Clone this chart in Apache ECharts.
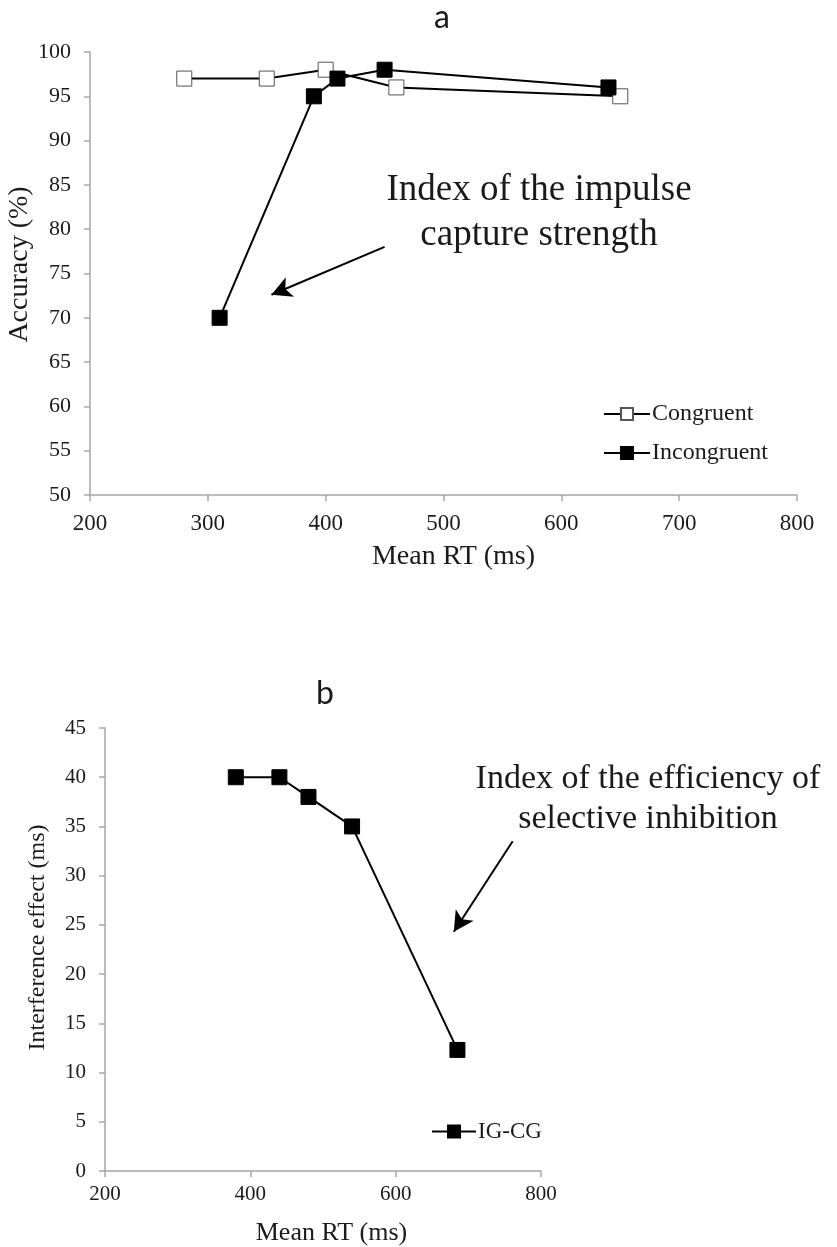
<!DOCTYPE html>
<html>
<head>
<meta charset="utf-8">
<script src="https://cdn.jsdelivr.net/npm/echarts@6/dist/echarts.min.js"></script>
<style>
  html, body { margin: 0; padding: 0; background: #fff; }
  #chart { width: 837px; height: 1247px; }
</style>
</head>
<body>
<div id="chart"></div>
<script>
// panel a: accuracy vs mean RT
const congruentRT = [280, 350, 400, 460, 650];
const congruentAcc = [97, 97, 98, 96, 95];
const incongruentRT = [310, 390, 410, 450, 640];
const incongruentAcc = [70, 95, 97, 98, 96];

// panel b: interference effect vs mean RT
const igcgRT = [380, 440, 480, 540, 685];
const igcgEffect = [40, 40, 38, 35, 12.3];

// arrows (data coords)
const arrowA = [[450, 78], [354, 72.6]];
const arrowB = [[761, 33.5], [680, 24.3]];

const serif = 'Liberation Serif';
const axisGray = '#a6a6a6';
const ink = '#1a1a1a';

const pair = (xs, ys) => xs.map((x, i) => [x, ys[i]]);

const myChart = echarts.init(document.getElementById('chart'));

const valueAxis = (extra) => Object.assign({
  type: 'value',
  splitLine: { show: false },
  axisLine: { show: true, lineStyle: { color: axisGray, width: 1.5 } },
  axisTick: { show: true, length: 6, lineStyle: { color: axisGray, width: 1.5 } },
  nameLocation: 'middle',
  nameMoveOverlap: false,
  nameTextStyle: { fontFamily: serif, color: ink }
}, extra);

const option = {
  animation: false,
  textStyle: { fontFamily: serif },
  grid: [
    { left: 90, top: 52, width: 707, height: 443, containLabel: false, outerBoundsMode: 'none' },
    { left: 105, top: 728, width: 436, height: 443, containLabel: false, outerBoundsMode: 'none' }
  ],
  xAxis: [
    valueAxis({
      gridIndex: 0, min: 200, max: 800, interval: 100,
      name: 'Mean RT (ms)', nameGap: 48,
      nameTextStyle: { fontFamily: serif, color: ink, fontSize: 28, padding: [0, 0, 0, 20] },
      axisLabel: { fontSize: 23, color: ink, margin: 17 }
    }),
    valueAxis({
      gridIndex: 1, min: 200, max: 800, interval: 200,
      name: 'Mean RT (ms)', nameGap: 49,
      nameTextStyle: { fontFamily: serif, color: ink, fontSize: 26, padding: [0, 0, 0, 17] },
      axisLabel: { fontSize: 21, color: ink, margin: 13 }
    })
  ],
  yAxis: [
    valueAxis({
      gridIndex: 0, min: 50, max: 100, interval: 5,
      name: 'Accuracy (%)', nameGap: 56,
      nameTextStyle: { fontFamily: serif, color: ink, fontSize: 28, padding: [0, 0, 0, 18] },
      axisLabel: { fontSize: 22, color: ink, margin: 19 }
    }),
    valueAxis({
      gridIndex: 1, min: 0, max: 45, interval: 5,
      name: 'Interference effect (ms)', nameGap: 55,
      nameTextStyle: { fontFamily: serif, color: ink, fontSize: 24, padding: [0, 0, 0, 24] },
      axisLabel: { fontSize: 21, color: ink, margin: 19 }
    })
  ],
  legend: [
    {
      data: ['Congruent', 'Incongruent'],
      orient: 'vertical', left: 598, top: 397,
      itemWidth: 46, itemHeight: 15, itemGap: 15,
      selectedMode: false,
      textStyle: { fontFamily: serif, fontSize: 24, color: ink, padding: [0, 0, 0, -3] }
    },
    {
      data: ['IG-CG'],
      orient: 'vertical', left: 426, top: 1115,
      itemWidth: 44, itemHeight: 15,
      selectedMode: false,
      textStyle: { fontFamily: serif, fontSize: 23, color: ink, padding: [0, 0, 0, -3] }
    }
  ],
  series: [
    {
      name: 'Congruent', type: 'line', xAxisIndex: 0, yAxisIndex: 0,
      data: pair(congruentRT, congruentAcc),
      symbol: 'rect', symbolSize: 15,
      lineStyle: { color: '#000', width: 2 },
      itemStyle: { color: '#fff', borderColor: '#555', borderWidth: 1 }
    },
    {
      name: 'Incongruent', type: 'line', xAxisIndex: 0, yAxisIndex: 0,
      data: pair(incongruentRT, incongruentAcc),
      symbol: 'rect', symbolSize: 15,
      lineStyle: { color: '#000', width: 2 },
      itemStyle: { color: '#000', borderColor: '#000', borderWidth: 1 },
      markLine: {
        silent: true, symbol: ['none', 'arrow'], symbolSize: [16, 20],
        label: { show: false },
        lineStyle: { color: '#000', width: 2, type: 'solid' },
        data: [[{ coord: arrowA[0] }, { coord: arrowA[1] }]]
      }
    },
    {
      name: 'IG-CG', type: 'line', xAxisIndex: 1, yAxisIndex: 1,
      data: pair(igcgRT, igcgEffect),
      symbol: 'rect', symbolSize: 15,
      lineStyle: { color: '#000', width: 2 },
      itemStyle: { color: '#000', borderColor: '#000', borderWidth: 1 },
      markLine: {
        silent: true, symbol: ['none', 'arrow'], symbolSize: [16, 20],
        label: { show: false },
        lineStyle: { color: '#000', width: 2, type: 'solid' },
        data: [[{ coord: arrowB[0] }, { coord: arrowB[1] }]]
      }
    }
  ],
  graphic: [
    {
      type: 'text', x: 442, y: 18,
      style: { text: 'a', font: '32px Lato', fill: ink, align: 'center', verticalAlign: 'middle' }
    },
    {
      type: 'text', x: 325, y: 694,
      style: { text: 'b', font: '32px Lato', fill: ink, align: 'center', verticalAlign: 'middle' }
    },
    {
      type: 'text', x: 539, y: 213,
      style: {
        text: 'Index of the impulse\ncapture strength',
        font: '37px "Liberation Serif"', lineHeight: 45,
        fill: ink, align: 'center', verticalAlign: 'middle'
      }
    },
    {
      type: 'text', x: 648, y: 799,
      style: {
        text: 'Index of the efficiency of\nselective inhibition',
        font: '34px "Liberation Serif"', lineHeight: 40,
        fill: ink, align: 'center', verticalAlign: 'middle'
      }
    }
  ]
};

myChart.setOption(option);
</script>
</body>
</html>
